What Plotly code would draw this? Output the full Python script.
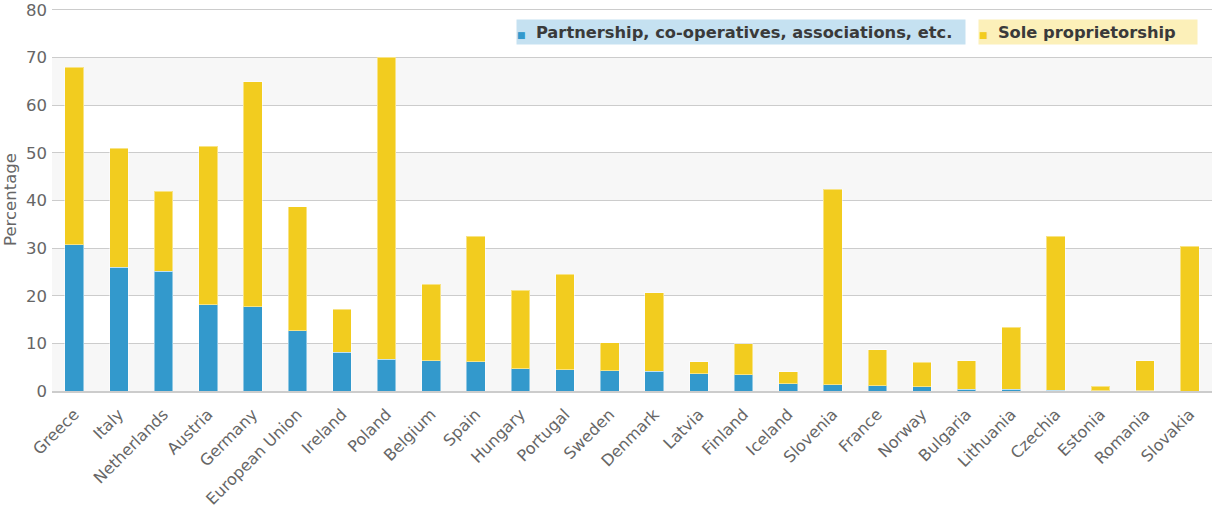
import plotly.graph_objects as go

countries = ["Greece", "Italy", "Netherlands", "Austria", "Germany", "European Union",
             "Ireland", "Poland", "Belgium", "Spain", "Hungary", "Portugal", "Sweden",
             "Denmark", "Latvia", "Finland", "Iceland", "Slovenia", "France", "Norway",
             "Bulgaria", "Lithuania", "Czechia", "Estonia", "Romania", "Slovakia"]

# totals (partnership + sole proprietorship), percentages
totals = [68.0, 51.0, 41.9, 51.4, 64.9, 38.7, 17.2, 70.1, 22.4, 32.5, 21.2, 24.5, 10.1,
          20.6, 6.1, 9.9, 4.0, 42.4, 8.7, 6.0, 6.4, 13.4, 32.5, 1.05, 6.4, 30.4]
partnership = [30.7, 26.0, 25.1, 18.1, 17.7, 12.7, 8.1, 6.7, 6.3, 6.1, 4.7, 4.5, 4.3,
               4.1, 3.6, 3.4, 1.5, 1.3, 1.1, 0.85, 0.4, 0.4, 0.2, 0.1, 0.1, 0.0]
sole = [round(t - p, 2) for t, p in zip(totals, partnership)]

y_ticks = [0, 10, 20, 30, 40, 50, 60, 70, 80]

BLUE = "#3399cc"
YELLOW = "#f2cc1f"
FONT = "DejaVu Sans"

fig = go.Figure()
fig.add_trace(go.Bar(x=countries, y=partnership, name="Partnership, co-operatives, associations, etc.",
                     marker=dict(color=BLUE, line=dict(color="rgba(255,255,255,0.45)", width=1)),
                     width=0.42, showlegend=False))
fig.add_trace(go.Bar(x=countries, y=sole, name="Sole proprietorship",
                     marker=dict(color=YELLOW, line=dict(color="rgba(255,255,255,0.45)", width=1)),
                     width=0.42, showlegend=False))

# alternating background bands
shapes = []
for lo in range(0, 80, 20):
    shapes.append(dict(type="rect", xref="paper", yref="y", x0=0, x1=1, y0=lo, y1=lo + 10,
                       fillcolor="#f7f7f7", line=dict(width=0), layer="below"))

annotations = [
    dict(xref="paper", yref="paper", x=0.7875, y=0.937, xanchor="right", yanchor="middle",
         text='<span style="color:%s;font-size:9px">■</span>&nbsp;&nbsp;<b>Partnership, co-operatives, associations, etc.</b>' % BLUE,
         showarrow=False, bgcolor="#c5e1f1", width=448, height=24, align="left",
         borderpad=0, font=dict(family=FONT, size=16.3, color="#3a3a3a")),
    dict(xref="paper", yref="paper", x=0.988, y=0.937, xanchor="right", yanchor="middle",
         text='<span style="color:%s;font-size:9px">■</span>&nbsp;&nbsp;<b>Sole proprietorship</b>' % YELLOW,
         showarrow=False, bgcolor="#fcf0b9", width=218, height=24, align="left",
         borderpad=0, font=dict(family=FONT, size=16.3, color="#3a3a3a")),
]

fig.update_layout(
    barmode="stack",
    width=1212, height=510,
    margin=dict(l=52, r=0, t=8, b=119),
    paper_bgcolor="white", plot_bgcolor="white",
    font=dict(family=FONT, color="#666666"),
    shapes=shapes,
    annotations=annotations,
)
fig.update_xaxes(tickangle=-45, tickfont=dict(size=16, color="#666666"), showgrid=False,
                 showline=True, linecolor="#cccccc", linewidth=1.5, ticks="",
                 ticklabelstandoff=6)
fig.update_yaxes(range=[0, 80.4], tickvals=y_ticks, tickfont=dict(size=16.5, color="#666666"),
                 showgrid=True, gridcolor="#cccccc", gridwidth=1.2, zeroline=False,
                 title=dict(text="Percentage", font=dict(size=16.5, color="#666666"), standoff=5),
                 ticks="", ticklabelstandoff=4)

fig.write_html("out.html")
